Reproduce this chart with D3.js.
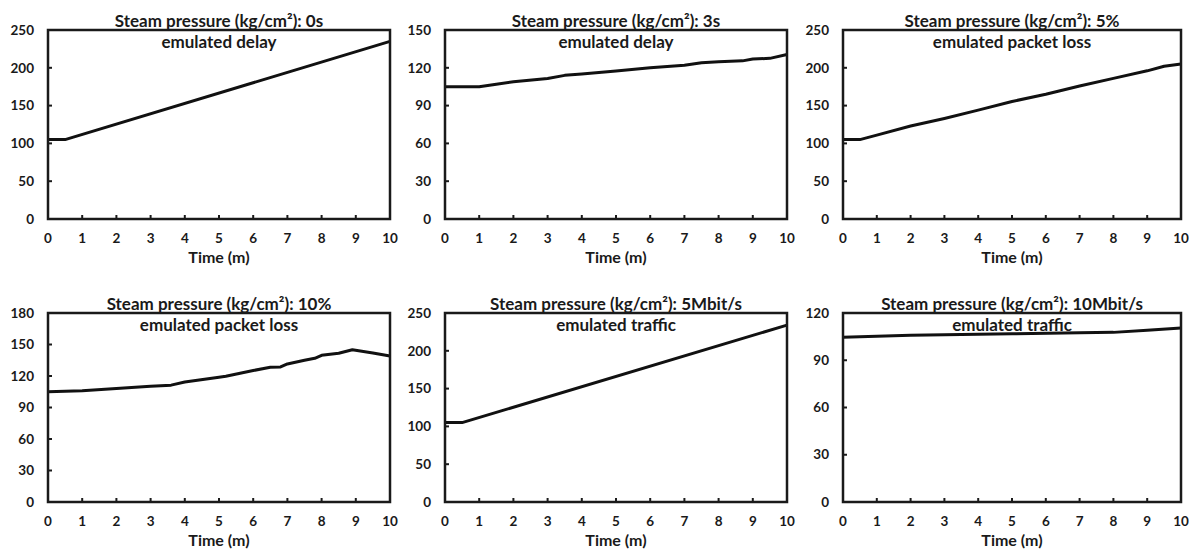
<!DOCTYPE html>
<html>
<head>
<meta charset="utf-8">
<script src="https://cdn.jsdelivr.net/npm/d3@7"></script>
<style>
  body { margin: 0; background: #fff; }
  text { font-family: Lato, "Open Sans", sans-serif; font-weight: bold; fill: #1a1a1a; }
</style>
</head>
<body>
<svg id="chart" width="1189" height="549"></svg>
<script>
// panel titles (two lines each)
const titles = [
  ["Steam pressure (kg/cm²): 0s", "emulated delay"],
  ["Steam pressure (kg/cm²): 3s", "emulated delay"],
  ["Steam pressure (kg/cm²): 5%", "emulated packet loss"],
  ["Steam pressure (kg/cm²): 10%", "emulated packet loss"],
  ["Steam pressure (kg/cm²): 5Mbit/s", "emulated traffic"],
  ["Steam pressure (kg/cm²): 10Mbit/s", "emulated traffic"]
];

const xTicks = [0, 1, 2, 3, 4, 5, 6, 7, 8, 9, 10];
const yMax = [250, 150, 250, 180, 250, 120];
const yStep = [50, 30, 50, 30, 50, 30];

// time (minutes) / pressure pairs
const delay0sT = [0, 0.5, 10];
const delay0sV = [105, 105, 235];

const delay3sT = [0, 1, 1.5, 2, 3, 3.5, 4, 5, 6, 7, 7.5, 8, 8.7, 9, 9.5, 10];
const delay3sV = [105, 105, 107, 109, 111.5, 114, 115, 117.5, 120, 122, 124, 124.8, 125.5, 127, 127.5, 130.5];

const loss5T = [0, 0.5, 1, 2, 3, 4, 5, 6, 7, 8, 9, 9.5, 10];
const loss5V = [105, 105, 111, 123, 133, 144, 155.5, 165, 176, 186, 196, 202, 205];

const loss10T = [0, 1, 2, 3, 3.6, 4, 5, 5.2, 6, 6.5, 6.8, 7, 7.5, 7.8, 8, 8.5, 8.9, 9.5, 10];
const loss10V = [105, 106, 108, 110.3, 111.3, 114.3, 118.8, 119.8, 125.2, 128.3, 128.6, 131.5, 135, 136.9, 139.7, 141.6, 145, 142, 139];

const traffic5T = [0, 0.5, 10];
const traffic5V = [105, 105, 234];

const traffic10T = [0, 2, 5, 7, 8, 9, 10];
const traffic10V = [104.6, 105.8, 106.8, 107.5, 107.7, 109, 110.5];

const seriesT = [delay0sT, delay3sT, loss5T, loss10T, traffic5T, traffic10T];
const seriesV = [delay0sV, delay3sV, loss5V, loss10V, traffic5V, traffic10V];

// frame positions of the 3x2 grid
const colLeft = [48, 445, 843];
const colRight = [390, 787, 1181];
const rowTop = [30, 313];
const rowBottom = [219, 502];

const svg = d3.select("#chart");

titles.forEach((title, i) => {
  const col = i % 3;
  const row = Math.floor(i / 3);
  const left = colLeft[col], right = colRight[col];
  const top = rowTop[row], bottom = rowBottom[row];

  const x = d3.scaleLinear().domain([0, 10]).range([left, right]);
  const y = d3.scaleLinear().domain([0, yMax[i]]).range([bottom, top]);
  const yTicks = d3.range(0, yMax[i] + 1, yStep[i]);

  const g = svg.append("g");

  // inward tick marks
  g.selectAll(".xt").data(xTicks.slice(1, -1)).join("line")
    .attr("x1", (d) => x(d)).attr("x2", (d) => x(d))
    .attr("y1", bottom).attr("y2", bottom - 4)
    .attr("stroke", "#1a1a1a").attr("stroke-width", 2);
  g.selectAll(".yt").data(yTicks.slice(1, -1)).join("line")
    .attr("x1", left).attr("x2", left + 4)
    .attr("y1", (d) => y(d)).attr("y2", (d) => y(d))
    .attr("stroke", "#1a1a1a").attr("stroke-width", 2);

  g.selectAll(".xl").data(xTicks).join("text")
    .attr("x", (d) => x(d)).attr("y", bottom + 23.5)
    .attr("text-anchor", "middle").attr("font-size", 13.5)
    .text((d) => d);
  g.selectAll(".yl").data(yTicks).join("text")
    .attr("x", left - 14).attr("y", (d) => y(d))
    .attr("dy", "0.35em")
    .attr("text-anchor", "end").attr("font-size", 13.5)
    .text((d) => d);

  g.append("text")
    .attr("x", (left + right) / 2).attr("y", bottom + 44)
    .attr("text-anchor", "middle").attr("font-size", 16)
    .text("Time (m)");

  // data line
  const pts = seriesT[i].map((t, k) => [t, seriesV[i][k]]);
  g.append("path")
    .datum(pts)
    .attr("d", d3.line().x((d) => x(d[0])).y((d) => y(d[1])))
    .attr("fill", "none").attr("stroke", "#111")
    .attr("stroke-width", 3).attr("stroke-linejoin", "round");

  // frame
  g.append("rect")
    .attr("x", left).attr("y", top)
    .attr("width", right - left).attr("height", bottom - top)
    .attr("fill", "none").attr("stroke", "#1a1a1a").attr("stroke-width", 2.5);

  g.append("text")
    .attr("x", (left + right) / 2).attr("y", top - 3)
    .attr("text-anchor", "middle").attr("font-size", 17)
    .text(title[0]);
  g.append("text")
    .attr("x", (left + right) / 2).attr("y", top + 18)
    .attr("text-anchor", "middle").attr("font-size", 17)
    .text(title[1]);
});
</script>
</body>
</html>
